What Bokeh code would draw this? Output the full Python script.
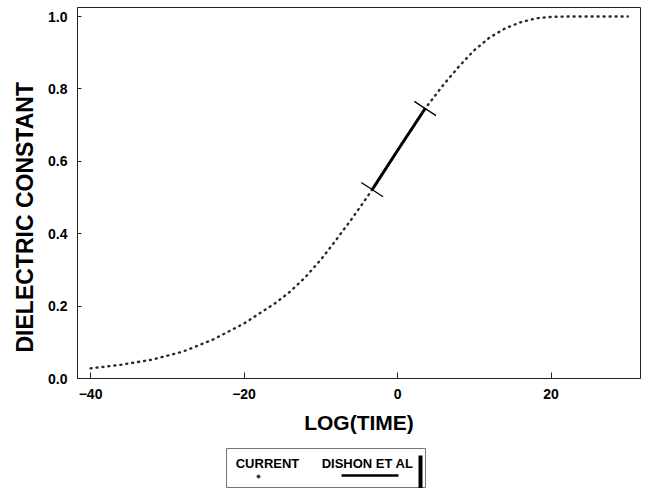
from bokeh.plotting import figure
from bokeh.models import Range1d, FixedTicker, PrintfTickFormatter, Spacer, Title
from bokeh.layouts import column, row
from bokeh.embed import file_html
from bokeh.resources import INLINE
from bokeh.core.properties import value

# --- data ---
log_time = [-40, -36, -32, -28, -24, -20, -16, -14, -12, -10, -8, -6, -4, -3.3, 0, 3.6,
            6, 8, 10, 12, 14, 16, 18, 20, 22, 26, 30]
dielectric = [0.028, 0.038, 0.052, 0.074, 0.108, 0.152, 0.207, 0.24, 0.28, 0.328, 0.383, 0.44, 0.5, 0.522,
              0.63, 0.746, 0.812, 0.862, 0.907, 0.942, 0.967, 0.984, 0.995, 0.999, 1.0, 1.0, 1.0]
dishon_time = [-3.3, 0, 3.6]
dishon_value = [0.522, 0.63, 0.746]
x_ticks = [-40, -20, 0, 20]
y_ticks = [0.0, 0.2, 0.4, 0.6, 0.8, 1.0]
legend_labels = ["CURRENT", "DISHON ET AL"]
x_title = "LOG(TIME)"
y_title = "DIELECTRIC CONSTANT"

FONT = "Liberation Sans"
INK = "#222222"

p = figure(width=644, height=448, output_backend="svg", toolbar_location=None,
           x_range=Range1d(-41.7, 31.66), y_range=Range1d(0, 1.025),
           min_border_left=77, min_border_right=4, min_border_top=7, min_border_bottom=70,
           background_fill_color="white", border_fill_color="white")
p.grid.visible = False
p.outline_line_color = INK
p.outline_line_width = 1

for ax in (p.xaxis[0], p.yaxis[0]):
    ax.axis_line_color = INK
    ax.major_tick_line_color = INK
    ax.minor_tick_line_color = None
    ax.major_tick_out = 0
    ax.major_label_text_font = FONT
    ax.major_label_text_font_style = "bold"
    ax.major_label_text_font_size = "14px"
    ax.major_label_text_color = "black"
    ax.axis_label_text_font = FONT
    ax.axis_label_text_font_style = "bold"
    ax.axis_label_text_color = "black"

p.xaxis.axis_label_text_font_size = "21px"
p.xaxis.ticker = FixedTicker(ticks=x_ticks)
p.yaxis.ticker = FixedTicker(ticks=y_ticks)
p.yaxis.formatter = PrintfTickFormatter(format="%.1f")
p.xaxis.major_tick_in = 6
p.yaxis.major_tick_in = 4
p.xaxis.major_label_standoff = 10
p.yaxis.major_label_standoff = 10
p.xaxis.axis_label = x_title
p.xaxis.axis_label_standoff = 9

# y-axis title as a side title so it can sit a little below the frame centre, as in the reference
p.add_layout(Title(text=y_title, align="left", offset=26, standoff=16,
                   text_font=FONT, text_font_style="bold", text_font_size="23px",
                   text_color="black"), "left")

# dotted "current" curve
p.line(log_time, dielectric, line_color="#2a2a2a", line_width=2.4, line_dash="1 5", line_cap="round")
# solid Dishon et al. segment
p.line(dishon_time, dishon_value, line_color="black", line_width=3)
# perpendicular end marks
p.scatter([dishon_time[0], dishon_time[-1]], [dishon_value[0], dishon_value[-1]], marker="dash",
          size=26, angle=-0.58, line_color="black", line_width=1.3)

# legend box below the chart
leg = figure(width=200, height=40, output_backend="svg", toolbar_location=None,
             x_range=Range1d(0, 200), y_range=Range1d(0, 40),
             min_border=0, background_fill_color="white", border_fill_color="white")
leg.axis.visible = False
leg.grid.visible = False
leg.outline_line_color = "#777777"
leg.outline_line_width = 1
leg.text([41, 141], [25, 25], text=legend_labels, text_font=value(FONT), text_font_style="bold",
         text_font_size="13px", text_align="center", text_baseline="middle", text_color="black")
leg.scatter([32], [12], size=3, color="#333333")
leg.line([115, 172], [13, 13], line_color="black", line_width=2.5)
leg.line([194, 194], [0, 33], line_color="black", line_width=4)

layout = column(p, row(Spacer(width=226), leg))
open("out.html", "w").write(file_html(layout, INLINE))
